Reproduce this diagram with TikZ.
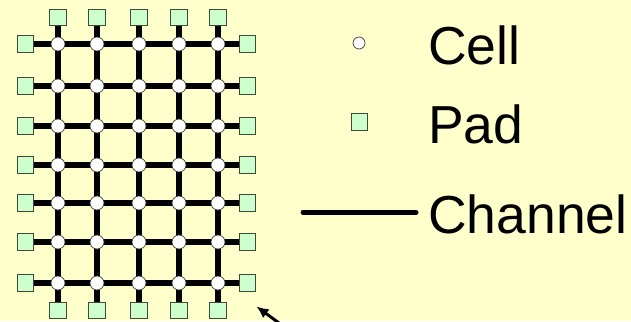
\documentclass[tikz,border=0pt]{standalone}
\usepackage{fontspec}
\setmainfont{Liberation Sans}
\usetikzlibrary{positioning,backgrounds,arrows.meta}
\definecolor{paper}{HTML}{FFFFCC}
\definecolor{padgreen}{HTML}{CCFFCC}
\definecolor{padrim}{HTML}{3F4A3F}
\tikzset{
cellnode/.style={circle,draw=black!75,fill=white,minimum size=14pt,inner sep=0pt,line width=0.7pt},
legcell/.style={circle,draw=black!75,fill=white,minimum size=12pt,inner sep=0pt,line width=0.7pt},
padbox/.style={rectangle,draw=padrim,fill=padgreen,minimum size=16.5pt,inner sep=0pt,line width=1pt},
chanline/.style={line width=6pt,black},
legendtext/.style={font=\fontsize{53.5}{60}\selectfont,anchor=base west,inner sep=0pt},
pointer/.style={-{Latex[length=12pt,width=11pt]},line width=3pt,black}
}

\begin{document}
\begin{tikzpicture}[x=1pt,y=-1pt]
\useasboundingbox (0,0) rectangle (631,321);
% cells and pads
\foreach \cx [count=\c] in {58,97,139,179,218}{
  \foreach \ry [count=\r] in {44,86,126,165,203,242,283}
    \node[cellnode] (c-\r-\c) at (\cx,\ry) {};
  \node[padbox] (pt-\c) at (\cx,17.7) {};
  \node[padbox] (pb-\c) at (\cx,310.5) {};
}
\foreach \ry [count=\r] in {44,86,126,165,203,242,283}{
  \node[padbox] (pl-\r) at (25.3,\ry) {};
  \node[padbox] (pr-\r) at (247.3,\ry) {};
}
% channels behind
\begin{scope}[on background layer]
\fill[paper] (0,0) rectangle (631,321);
\foreach \r in {1,...,7}
  \draw[chanline] (pl-\r) -- (pr-\r);
\foreach \c in {1,...,5}
  \draw[chanline] (pt-\c) -- (pb-\c);
\end{scope}
% legend
\node[legcell] (keycell) at (359,43) {};
\node[padbox] (keypad) at (359.5,122) {};
\coordinate (keyA) at (303,212.3);
\coordinate (keyB) at (416,212.3);
\draw[line width=5pt,line cap=round] (keyA) -- (keyB);
\node[legendtext] (tcell) at (428,64) {Cell};
\node[legendtext] (tpad) at (428,143) {Pad};
\node[legendtext] (tchan) at (428,233) {Channel};
% arrow at the bottom
\coordinate (tail) at (279,323);
\coordinate (tip) at (256.5,306.5);
\draw[pointer] (tail) -- (tip);
\end{tikzpicture}
\end{document}
